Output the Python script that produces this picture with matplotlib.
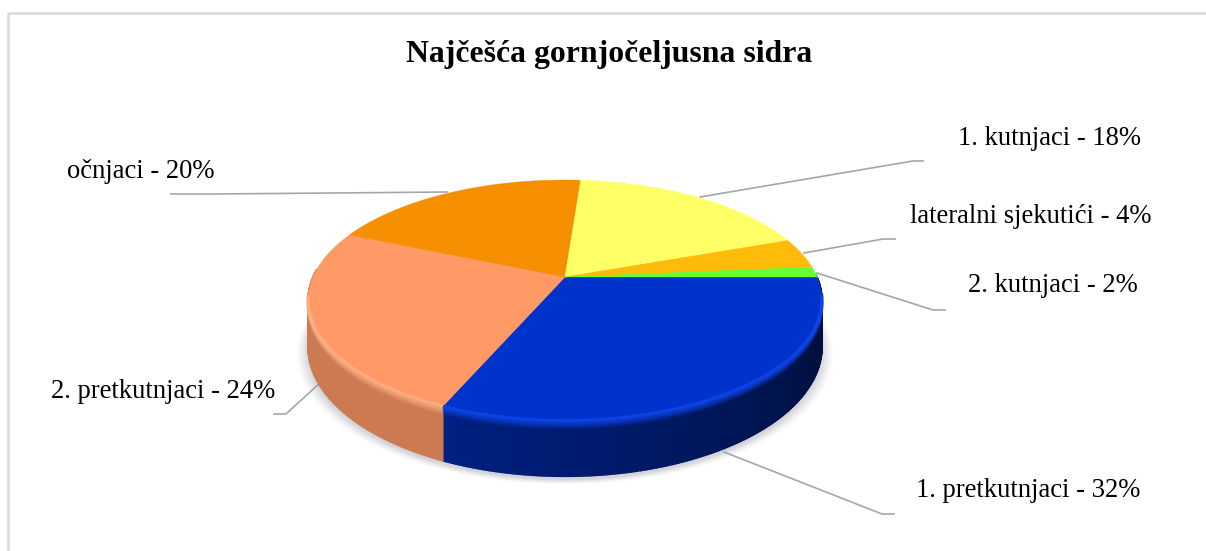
import numpy as np
import matplotlib
matplotlib.use("Agg")
import matplotlib.pyplot as plt

# --- DATA ---
kategorije = ['1. pretkutnjaci', '2. pretkutnjaci', 'očnjaci', '1. kutnjaci',
              'lateralni sjekutići', '2. kutnjaci']
postotci = [32, 24, 20, 18, 4, 2]
boje = ['#0033cc', '#ff9966', '#f58f00', '#ffff66', '#ffbb0a', '#66ff33']
boje_ruba = ['#1047f0', '#ffb184', '#f58f00', '#ffff66', '#ffbb0a', '#66ff33']
naslov = 'Najčešća gornjočeljusna sidra'

# label position (left x, baseline y) and leader line, in picture pixels
pozicije = [(916, 497), (51, 398), (67, 178), (958, 145), (910, 223), (968, 292)]
vodici = [
    [(724, 452), (882, 514), (894, 514)],
    [(321, 382), (286, 414), (274, 414)],
    [(447, 192), (215, 194), (171, 194)],
    [(700, 197), (913, 161), (923, 161)],
    [(804, 253), (883, 239), (895, 239)],
    [(817, 273), (933, 310), (945, 310)],
]

# pie geometry (perspective disc)
CX, CY = 565, 277
RX, RY = 252, 115.9
K = 0.195
DUBINA = 44.5
# small angle correction of the 3D view, degrees -> radians
KOR_KUT = [-180, -115, -60, 0, 7, 22, 86, 158, 180]
KOR_VRIJ = [-0.01, 0.03, 0.01, 0, -0.04, -0.035, -0.012, -0.025, -0.01]


def projekcija(theta, r=1.0):
    stupnjevi = np.degrees(np.arctan2(np.sin(theta), np.cos(theta)))
    theta = theta + np.interp(stupnjevi, KOR_KUT, KOR_VRIJ)
    w = 1 + K * r * np.sin(theta)
    return CX + RX * r * np.cos(theta) / w, CY - RY * r * np.sin(theta) / w, w


def sjena_strane(theta, i):
    # how dark the side wall is at this angle
    if i == 0:
        t = np.clip((theta + 2.0) / 1.6, 0, 1)
        return 0.64 - 0.34 * t
    return 0.80


fig = plt.figure(figsize=(12.06, 5.51), dpi=100)
ax = fig.add_axes([0, 0, 1, 1])
ax.set_xlim(0, 1206)
ax.set_ylim(551, 0)
ax.axis('off')

# frame (only left and top are inside the picture)
ax.plot([8, 8, 1206], [551, 12.5, 12.5], color='#d9d9d9', lw=1.8, zorder=1)

# soft shadow under the pie
kut = np.linspace(0, 2 * np.pi, 361)
sx, sy, sw = projekcija(kut)
for sirenje, alfa in zip([11, 9, 7, 5, 3, 1], [0.03, 0.04, 0.05, 0.06, 0.07, 0.08]):
    ax.fill(CX + (sx - CX) * (1 + sirenje / 260), sy + DUBINA / sw + 3 + sirenje * 0.45,
            color='#707080', alpha=alfa, lw=0, zorder=2)

kutovi = -np.cumsum([0] + postotci) / sum(postotci) * 2 * np.pi

# side wall, small strips
for i in range(len(postotci)):
    a0, a1 = kutovi[i], kutovi[i + 1]
    n = max(int((a0 - a1) * 90), 3)
    granice = np.linspace(a0, a1, n + 1)
    for j in range(n):
        t = np.linspace(granice[j], granice[j + 1], 4)
        if np.sin(t).mean() > 0.05:
            continue
        x, y, w = projekcija(t)
        dy = DUBINA / w
        f = sjena_strane(t.mean(), i)
        boja = np.array(matplotlib.colors.to_rgb(boje[i])) * f
        ax.fill(np.r_[x, x[::-1]], np.r_[y, (y + dy)[::-1]], color=boja,
                lw=1.2, ec=boja, zorder=3)

# top surface
for i in range(len(postotci)):
    t = np.linspace(kutovi[i], kutovi[i + 1], 200)
    x, y, _ = projekcija(t)
    ax.fill(np.r_[CX, x], np.r_[CY, y], color=boje[i], lw=0.3, ec=boje[i], zorder=4)

# bevel: soft lighter rim along the front edge
for i in range(2):
    t = np.linspace(kutovi[i], kutovi[i + 1], 200)
    t = t[np.sin(t) < -0.15]
    x, y, w = projekcija(t)
    for pomak, alfa in zip([7, 5.5, 4, 2.5], [0.12, 0.2, 0.35, 0.5]):
        ax.plot(x, y + pomak, color=boje_ruba[i], lw=2.0, alpha=alfa, zorder=3.5,
                solid_capstyle='butt')
    ax.plot(x, y, color=boje_ruba[i], lw=2.6, alpha=0.8, zorder=5,
            solid_capstyle='butt')

# labels
serif = ['Liberation Serif', 'DejaVu Serif']
ax.text(609, 62, naslov, family=serif, fontsize=22.9, fontweight='bold', ha='center',
        va='baseline', color='black', zorder=6)
for ime, p, (lx, ly), vodic in zip(kategorije, postotci, pozicije, vodici):
    ax.text(lx, ly, f'{ime} - {p}%', family=serif, fontsize=19.2, ha='left', va='baseline',
            color='black', zorder=6)
    ax.plot(*zip(*vodic), color='#a6a6a6', lw=1.2, zorder=2.5)

fig.savefig('out.png', dpi=100, facecolor='white')
